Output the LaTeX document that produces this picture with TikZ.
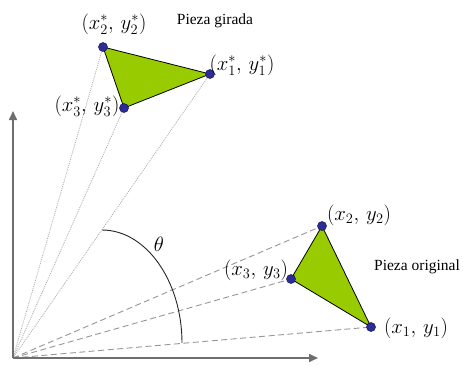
\documentclass[tikz,border=0pt]{standalone}
\usepackage{fontspec}
\setmainfont{Liberation Serif}
\usetikzlibrary{arrows.meta}
\definecolor{trifill}{RGB}{153,204,0}
\definecolor{dotfill}{RGB}{45,45,150}
\definecolor{dotline}{RGB}{20,20,80}
\definecolor{axisgray}{RGB}{110,110,110}
\definecolor{dashgray}{RGB}{150,150,150}
\definecolor{dotgray}{RGB}{175,175,175}
\tikzset{
  vtx/.style={circle,fill=dotfill,draw=dotline,line width=0.5pt,inner sep=0pt,minimum size=9pt},
  ptlabel/.style={inner sep=0pt,font=\fontsize{21}{24}\selectfont},
  txtlabel/.style={inner sep=0pt,font=\fontsize{15.5}{18}\selectfont},
  axisline/.style={draw=axisgray,line width=1.6pt,-{Triangle[length=9pt,width=8pt]}},
  rayorig/.style={draw=dashgray,line width=0.9pt,dash pattern=on 6pt off 3.5pt},
  rayrot/.style={draw=dotgray,line width=0.8pt,dash pattern=on 1pt off 1pt},
  triedge/.style={draw=black,line width=0.8pt,fill=trifill,line join=round},
  anglearc/.style={draw=black!85,line width=0.9pt}
}
\begin{document}
\begin{tikzpicture}[x=1pt,y=-1pt]
\useasboundingbox (0,0) rectangle (463,365);
% origin and axes
\coordinate (O) at (13,358);
\coordinate (xend) at (318,358);
\coordinate (yend) at (13,111);
% original points
\coordinate (P1) at (371,327);
\coordinate (P2) at (322,226);
\coordinate (P3) at (291,279);
% rotated points
\coordinate (Q1) at (210,74);
\coordinate (Q2) at (103,47);
\coordinate (Q3) at (124,108);
% rays
\draw[rayrot] (O) -- (Q2);
\draw[rayrot] (O) -- (Q3);
\draw[rayrot] (O) -- (Q1);
\draw[rayorig] (O) -- (P2);
\draw[rayorig] (O) -- (P3);
\draw[rayorig] (O) -- (P1);
% axes
\draw[axisline] (O) -- (xend);
\draw[axisline] (O) -- (yend);
% angle arc
\coordinate (A0) at (102,230);
\coordinate (A1) at (182,343);
\draw[anglearc] (A0) .. controls (146,230) and (182,281) .. (A1);
\node[ptlabel] (theta) at (159,244) {$\theta$};
% triangles
\draw[triedge] (P1) -- (P2) -- (P3) -- cycle;
\draw[triedge] (Q1) -- (Q2) -- (Q3) -- cycle;
% vertices
\node[vtx] (p1) at (P1) {};
\node[vtx] (p2) at (P2) {};
\node[vtx] (p3) at (P3) {};
\node[vtx] (q1) at (Q1) {};
\node[vtx] (q2) at (Q2) {};
\node[vtx] (q3) at (Q3) {};
% labels
\node[ptlabel] (lq2) at (114,24) {$(x_2^{*},\, y_2^{*})$};
\node[ptlabel] (lq1) at (242,65) {$(x_1^{*},\, y_1^{*})$};
\node[ptlabel] (lq3) at (87,106) {$(x_3^{*},\, y_3^{*})$};
\node[ptlabel] (lp2) at (359,215) {$(x_2,\, y_2)$};
\node[ptlabel] (lp3) at (256,270) {$(x_3,\, y_3)$};
\node[ptlabel] (lp1) at (416,328) {$(x_1,\, y_1)$};
\node[txtlabel] (girada) at (215,21) {Pieza girada};
\node[txtlabel] (original) at (417,267) {Pieza original};
\end{tikzpicture}
\end{document}
